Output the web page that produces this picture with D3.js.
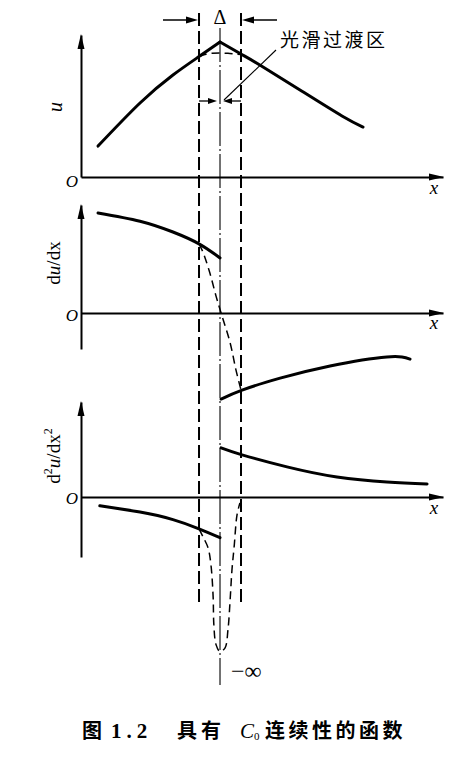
<!DOCTYPE html>
<html>
  <head>
    <meta charset="utf-8">
    <script src="https://d3js.org/d3.v7.min.js"></script>
    <style>
      body { margin: 0; background: #fff; }
      svg { display: block; }
      .serif { font-family: "Liberation Serif", "DejaVu Serif", serif; fill: #000; }
      .cjk { font-family: "Noto Sans CJK SC", sans-serif; fill: #000; }
      .axis path { stroke: #000; stroke-width: 2px; }
      .curve { fill: none; stroke: #000; stroke-width: 3px; stroke-linecap: round; }
      .smooth { fill: none; stroke: #000; stroke-width: 1.5px; stroke-dasharray: 8,5; }
      .guide { stroke: #000; stroke-width: 2px; stroke-dasharray: 13,5; }
      .center { stroke: #000; stroke-width: 1.1px; stroke-dasharray: 34,3,2,3; }
    </style>
  </head>
  <body>
    <svg width="458" height="759"></svg>
    <script>

    // transition zone: left edge, kink, right edge (x units)
    var zone = [3.26, 3.84, 4.42];

    // u(x)
    var uLeft   = [[0.47, 2.18], [1.63, 5.21], [2.54, 7.18], [3.26, 8.48], [3.84, 9.51]];
    var uRight  = [[3.84, 9.51], [4.42, 8.66], [4.94, 7.89], [6.05, 6.13], [7.21, 4.30], [7.79, 3.52]];
    var uSmooth = [[3.26, 8.48], [3.45, 8.64], [3.62, 8.71], [3.84, 8.73], [4.06, 8.71], [4.25, 8.66], [4.42, 8.62]];

    // du/dx
    var duLeft   = [[0.47, 2.78], [1.63, 2.55], [2.54, 2.25], [3.26, 1.92], [3.84, 1.53]];
    var duRight  = [[3.87, -2.39], [4.45, -2.14], [5.50, -1.81], [6.88, -1.47], [8.45, -1.22], [9.09, -1.28]];
    var duSmooth = [[3.26, 1.92], [3.37, 1.69], [3.56, 1.11], [3.73, 0.47], [3.87, 0], [4.12, -0.83], [4.28, -1.58], [4.42, -2.14]];

    // d2u/dx2
    var d2Left   = [[0.52, -0.28], [1.63, -0.48], [2.54, -0.72], [3.26, -1.01], [3.84, -1.29]];
    var d2Right  = [[3.87, 1.55], [4.45, 1.33], [5.69, 0.95], [7.07, 0.63], [8.45, 0.47], [9.56, 0.41]];
    var d2Smooth = [[3.26, -1.01], [3.37, -1.26], [3.51, -1.61], [3.59, -2.15], [3.65, -3.16], [3.67, -4.04],
                    [3.73, -4.67], [3.84, -4.89], [3.98, -4.77], [4.06, -4.20], [4.12, -3.25], [4.17, -2.31],
                    [4.23, -1.58], [4.31, -0.57], [4.39, -0.19]];

    var svg = d3.select("svg");

    var x = d3.scaleLinear().domain([0, 10]).range([81, 443]);

    var panels = [
      {y: d3.scaleLinear().domain([0, 10]).range([177, 35]),   curves: [uLeft, uRight],   smooth: uSmooth,  xl: 190, ol: 183},
      {y: d3.scaleLinear().domain([-1, 3]).range([349, 205]),  curves: [duLeft, duRight], smooth: duSmooth, xl: 325, ol: 317},
      {y: d3.scaleLinear().domain([-1.9, 3]).range([557, 402]), curves: [d2Left, d2Right], smooth: d2Smooth, xl: 510, ol: 500}
    ];

    // vertical guides of the transition zone
    svg.selectAll(".guide")
      .data([zone[0], zone[2]])
      .enter().append("line")
      .attr("class", "guide")
      .attr("x1", function(d) { return x(d); })
      .attr("x2", function(d) { return x(d); })
      .attr("y1", 13).attr("y2", 605);

    svg.append("line")
      .attr("class", "center")
      .attr("x1", x(zone[1])).attr("x2", x(zone[1]))
      .attr("y1", 28).attr("y2", 685);

    panels.forEach(function(p) {
      var y0 = p.y(0);

      svg.append("g")
          .attr("class", "axis")
          .attr("transform", "translate(0," + y0 + ")")
          .call(d3.axisBottom(x).tickValues([]).tickSizeOuter(0));

      svg.append("g")
          .attr("class", "axis")
          .attr("transform", "translate(" + x(0) + ",0)")
          .call(d3.axisLeft(p.y).tickValues([]).tickSizeOuter(0));

      var xe = x(10), yt = p.y.range()[1];
      svg.append("path")
          .attr("d", "M" + (xe + 1) + "," + y0 + "L" + (xe - 14) + "," + (y0 - 3.5) + "L" + (xe - 14) + "," + (y0 + 3.5) + "Z");
      svg.append("path")
          .attr("d", "M" + x(0) + "," + (yt - 1) + "L" + (x(0) - 3.5) + "," + (yt + 14) + "L" + (x(0) + 3.5) + "," + (yt + 14) + "Z");

      var line = d3.line()
          .curve(d3.curveNatural)
          .x(function(d) { return x(d[0]); })
          .y(function(d) { return p.y(d[1]); });

      var dashed = d3.line()
          .curve(d3.curveCatmullRom.alpha(0.5))
          .x(function(d) { return x(d[0]); })
          .y(function(d) { return p.y(d[1]); });

      p.curves.forEach(function(c) {
        svg.append("path").attr("class", "curve").attr("d", line(c));
      });
      svg.append("path").attr("class", "smooth").attr("d", dashed(p.smooth));

      svg.append("text")
          .attr("class", "serif")
          .attr("x", 72).attr("y", p.ol)
          .attr("text-anchor", "middle")
          .attr("dominant-baseline", "middle")
          .style("font-size", "17px").style("font-style", "italic")
          .text("O");

      svg.append("text")
          .attr("class", "serif")
          .attr("x", 434).attr("y", p.xl)
          .attr("text-anchor", "middle")
          .attr("dominant-baseline", "middle")
          .style("font-size", "19px").style("font-style", "italic")
          .text("x");
    });

    // y labels
    svg.append("text")
        .attr("class", "serif")
        .attr("transform", "translate(57,107) rotate(-90)")
        .attr("text-anchor", "middle").attr("dominant-baseline", "middle")
        .style("font-size", "20px").style("font-style", "italic")
        .text("u");

    var l2 = svg.append("text")
        .attr("class", "serif")
        .attr("transform", "translate(56,263) rotate(-90)")
        .attr("text-anchor", "middle").attr("dominant-baseline", "middle")
        .style("font-size", "19px");
    l2.append("tspan").text("d");
    l2.append("tspan").style("font-style", "italic").text("u");
    l2.append("tspan").text("/dx");

    var l3 = svg.append("text")
        .attr("class", "serif")
        .attr("transform", "translate(56,456) rotate(-90)")
        .attr("text-anchor", "middle").attr("dominant-baseline", "middle")
        .style("font-size", "19px");
    l3.append("tspan").text("d");
    l3.append("tspan").attr("dy", -7).style("font-size", "12px").text("2");
    l3.append("tspan").attr("dy", 7).style("font-style", "italic").text("u");
    l3.append("tspan").text("/dx");
    l3.append("tspan").attr("dy", -7).style("font-size", "12px").text("2");

    // Delta dimension
    var ya = 20;
    svg.append("line").attr("x1", 163).attr("x2", x(zone[0]) - 10).attr("y1", ya).attr("y2", ya).attr("stroke", "#000").attr("stroke-width", 1.5);
    svg.append("line").attr("x1", 277).attr("x2", x(zone[2]) + 10).attr("y1", ya).attr("y2", ya).attr("stroke", "#000").attr("stroke-width", 1.5);
    svg.append("path").attr("d", "M" + (x(zone[0]) - 1) + "," + ya + "l-12,-3.5l0,7Z");
    svg.append("path").attr("d", "M" + (x(zone[2]) + 1) + "," + ya + "l12,-3.5l0,7Z");
    svg.append("text")
        .attr("class", "serif")
        .attr("x", x(zone[1])).attr("y", 19)
        .attr("text-anchor", "middle").attr("dominant-baseline", "middle")
        .style("font-size", "20px")
        .text("Δ");

    // inner arrows + leader to label
    var yb = 101;
    svg.append("line").attr("x1", x(zone[0])).attr("x2", x(zone[1]) - 8).attr("y1", yb).attr("y2", yb).attr("stroke", "#000").attr("stroke-width", 1.3);
    svg.append("line").attr("x1", x(zone[2])).attr("x2", x(zone[1]) + 8).attr("y1", yb).attr("y2", yb).attr("stroke", "#000").attr("stroke-width", 1.3);
    svg.append("path").attr("d", "M" + (x(zone[1]) - 3) + "," + yb + "l-9,-3l0,6Z");
    svg.append("path").attr("d", "M" + (x(zone[1]) + 3) + "," + yb + "l9,-3l0,6Z");
    svg.append("line").attr("x1", 276).attr("y1", 50).attr("x2", 224).attr("y2", 100).attr("stroke", "#000").attr("stroke-width", 1.1);

    svg.append("text")
        .attr("class", "cjk")
        .attr("x", 280).attr("y", 42)
        .attr("dominant-baseline", "middle")
        .style("font-size", "19px").style("letter-spacing", "2.5px")
        .text("光滑过渡区");

    svg.append("text")
        .attr("class", "serif")
        .attr("x", 231).attr("y", 673)
        .attr("dominant-baseline", "middle")
        .style("font-size", "24px")
        .text("−∞");

    // caption
    var cap = svg.append("text")
        .attr("class", "cjk")
        .attr("y", 733)
        .attr("dominant-baseline", "middle")
        .style("font-size", "20px").style("font-weight", "600");
    cap.append("tspan").attr("x", 82).text("图");
    cap.append("tspan").attr("x", 111).attr("class", "serif").style("font-size", "21px").style("letter-spacing", "5px").text("1.2");
    cap.append("tspan").attr("x", 177).style("letter-spacing", "4px").text("具有");
    cap.append("tspan").attr("x", 240).attr("class", "serif").style("font-style", "italic").style("font-weight", "normal").style("font-size", "21px").text("C");
    cap.append("tspan").attr("class", "serif").attr("dy", 4).style("font-size", "11px").style("font-weight", "normal").text("0");
    cap.append("tspan").attr("x", 265).attr("dy", -4).style("letter-spacing", "3.5px").text("连续性的函数");

    </script>
  </body>
</html>
